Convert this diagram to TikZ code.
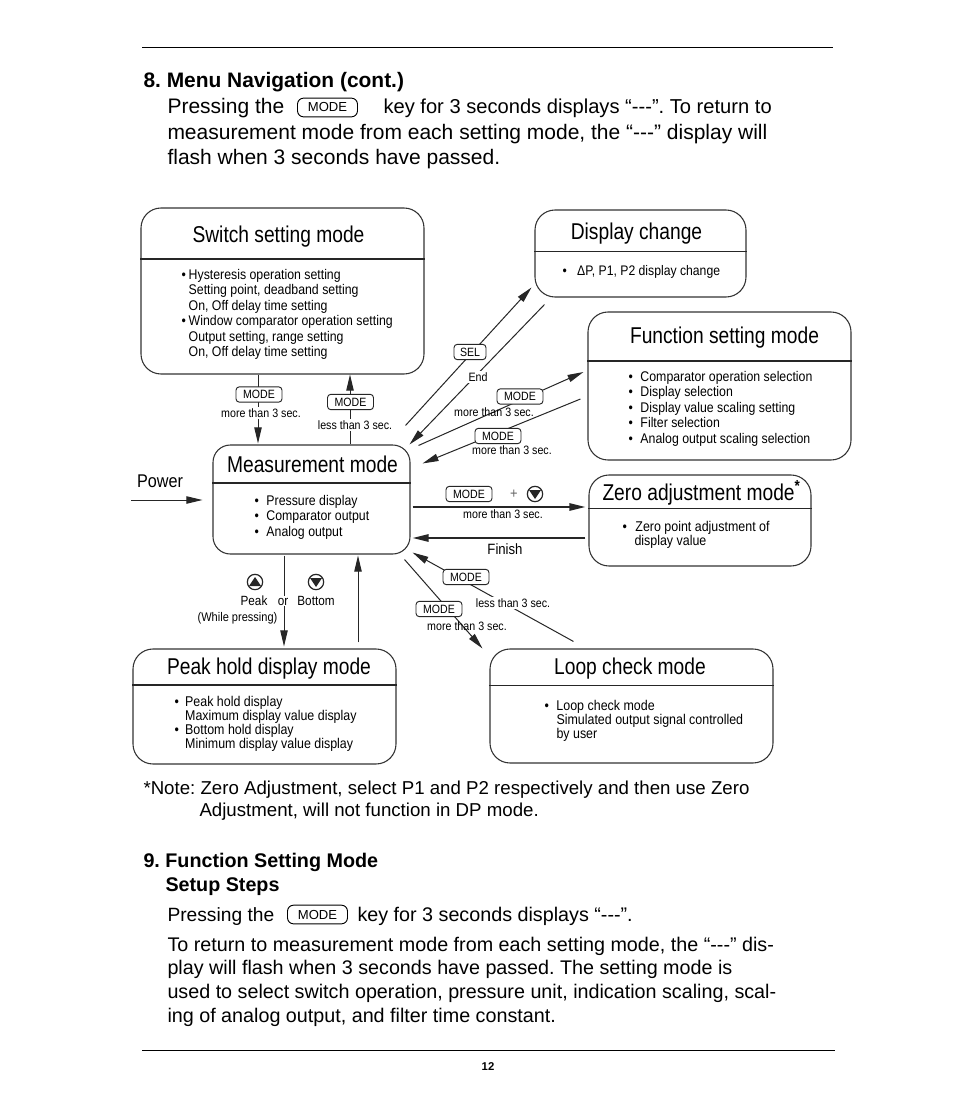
\documentclass[tikz,border=0pt]{standalone}
\usepackage{fontspec}
\setmainfont{Liberation Sans}
\newfontfamily\diagfont[FakeStretch=0.88]{Liberation Sans}
\newfontfamily\titlefont[FakeStretch=0.84]{Liberation Sans}
\usetikzlibrary{arrows.meta,positioning,calc}
\newcommand{\bul}[1]{\makebox[#1][l]{\textbullet}}
\newcommand{\sizefont}[2]{\fontsize{#1}{#2}\selectfont}
\newcommand{\dashes}{-{}-{}-}
\frenchspacing

\begin{document}
\begin{tikzpicture}[
    x=0.75pt, y=-0.75pt,
    line width=0.75pt,
    modebox/.style={rectangle, draw=black!80, rounded corners=15pt, line width=0.8pt, inner sep=0pt},
    divider/.style={draw=black!85, line width=0.9pt},
    titletext/.style={font=\titlefont\sizefont{17.15}{19}, anchor=base, inner sep=0pt},
    listtext/.style={font=\diagfont\sizefont{10.5}{11.6}, align=left, anchor=north west, inner sep=0pt},
    keybox/.style={rectangle, draw=black!85, fill=white, rounded corners=2.5pt, line width=0.7pt, minimum width=34.5pt, minimum height=11.5pt, inner sep=0pt, font=\diagfont\sizefont{9}{10}},
    smalltext/.style={font=\diagfont\sizefont{9.1}{10}, inner sep=0pt},
    masktext/.style={smalltext, fill=white, inner xsep=1pt, inner ysep=1pt},
    arr/.style={draw=black!85, -{Triangle[length=12pt,width=5.5pt]}},
    heavyarr/.style={arr, line width=1.3pt},
    roundkey/.style={circle, draw=black!85, line width=0.9pt, minimum size=11.5pt, inner sep=0pt},
    pagetext/.style={font=\sizefont{15.75}{19}, align=left, anchor=base west, inner sep=0pt},
    lowertext/.style={font=\sizefont{14.8}{18}, align=left, anchor=base west, inner sep=0pt},
    pagekey/.style={rectangle, draw=black, rounded corners=4.5pt, line width=0.7pt, minimum width=45pt, minimum height=14pt, inner sep=0pt, font=\sizefont{9.8}{11}}
]
    \useasboundingbox (0,0) rectangle (954,1098);
    \fill[white] (0,0) rectangle (954,1098);

    % page text
    \coordinate (ruletopa) at (142,47.5);
    \coordinate (ruletopb) at (833,47.5);
    \coordinate (rulebota) at (142,1050.5);
    \coordinate (rulebotb) at (835,1050.5);
    \draw[line width=0.6pt] (ruletopa) -- (ruletopb);
    \draw[line width=0.6pt] (rulebota) -- (rulebotb);

    \node[pagetext, font=\bfseries\sizefont{15.7}{19}] (headeight) at (143,88) {8. Menu Navigation (cont.)};
    \node[pagetext] (pressa) at (167,114) {Pressing the};
    \node[pagekey] (keya) at (327.5,107.5) {MODE};
    \node[pagetext, font=\sizefont{15.1}{19}] (pressb) at (383,114) {key for 3 seconds displays “\dashes”. To return to};
    \node[pagetext] (pressc) at (167,140) {measurement mode from each setting mode, the “\dashes” display will};
    \node[pagetext] (pressd) at (167,165) {flash when 3 seconds have passed.};

    \node[lowertext, font=\sizefont{14}{17}] (notea) at (143,794.5) {*Note: Zero Adjustment, select P1 and P2 respectively and then use Zero};
    \node[lowertext, font=\sizefont{14}{17}] (noteb) at (199,816) {Adjustment, will not function in DP mode.};
    \node[lowertext, font=\bfseries\sizefont{14.8}{18}] (headnine) at (143,867.5) {9. Function Setting Mode};
    \node[lowertext, font=\bfseries\sizefont{14.8}{18}] (headsetup) at (165,891.5) {Setup Steps};
    \node[lowertext, font=\sizefont{14.4}{18}] (stepsa) at (167,921) {Pressing the};
    \node[pagekey] (keyb) at (317.5,914.5) {MODE};
    \node[lowertext] (stepsb) at (357,921) {key for 3 seconds displays “\dashes”.};
    \node[lowertext] (stepsc) at (167,951) {To return to measurement mode from each setting mode, the “\dashes” dis-};
    \node[lowertext] (stepsd) at (167,974) {play will flash when 3 seconds have passed. The setting mode is};
    \node[lowertext] (stepse) at (167,998) {used to select switch operation, pressure unit, indication scaling, scal-};
    \node[lowertext] (stepsf) at (167,1022) {ing of analog output, and filter time constant.};
    \node[font=\bfseries\sizefont{8.5}{10}, inner sep=0pt] (pagenum) at (488,1066.5) {12};

    % mode boxes
    \node[modebox, minimum width=212.25pt, minimum height=124.5pt] (switch) at (282.5,291) {};
    \node[modebox, minimum width=158.25pt, minimum height=65.25pt] (display) at (640.5,253.5) {};
    \node[modebox, minimum width=197.25pt, minimum height=111pt] (function) at (719.5,386) {};
    \node[modebox, rounded corners=13pt, minimum width=147.75pt, minimum height=81.75pt] (meas) at (311.5,499.5) {};
    \node[modebox, minimum width=166.5pt, minimum height=68.25pt] (zero) at (700,520.5) {};
    \node[modebox, minimum width=197.25pt, minimum height=86.25pt] (peak) at (264.5,706.5) {};
    \node[modebox, minimum width=212.25pt, minimum height=85.5pt] (loop) at (631.5,706) {};

    \draw[divider] (switch.west |- 0,259) -- (switch.east |- 0,259);
    \draw[divider, line width=0.6pt] (display.west |- 0,251) -- (display.east |- 0,251);
    \draw[divider] (function.west |- 0,361) -- (function.east |- 0,361);
    \draw[divider] (meas.west |- 0,483) -- (meas.east |- 0,483);
    \draw[divider, line width=0.6pt] (zero.west |- 0,508) -- (zero.east |- 0,508);
    \draw[divider] (peak.west |- 0,685) -- (peak.east |- 0,685);
    \draw[divider, line width=0.6pt] (loop.west |- 0,685) -- (loop.east |- 0,685);

    % titles
    \node[titletext] (switchtitle) at (278.5,242.5) {Switch setting mode};
    \node[titletext] (displaytitle) at (636.5,239) {Display change};
    \node[titletext] (functiontitle) at (724.5,343.5) {Function setting mode};
    \node[titletext] (meastitle) at (312.5,472.5) {Measurement mode};
    \node[titletext, anchor=base west] (zerotitle) at (602,500) {Zero adjustment mode\textsuperscript{\bfseries *}};
    \node[titletext] (peaktitle) at (269,674.5) {Peak hold display mode};
    \node[titletext] (looptitle) at (630,674.5) {Loop check mode};

    % box contents
    \node[listtext] (switchlist) at (181,268.7) {\bul{5.4pt}Hysteresis operation setting\\\hspace*{5.4pt}Setting point, deadband setting\\\hspace*{5.4pt}On, Off delay time setting\\\bul{5.4pt}Window comparator operation setting\\\hspace*{5.4pt}Output setting, range setting\\\hspace*{5.4pt}On, Off delay time setting};
    \node[listtext, font=\diagfont\sizefont{10.4}{11.6}] (displaylist) at (562,264.5) {\bul{11pt}ΔP, P1, P2 display change};
    \node[listtext] (functionlist) at (628,370.7) {\bul{9pt}Comparator operation selection\\\bul{9pt}Display selection\\\bul{9pt}Display value scaling setting\\\bul{9pt}Filter selection\\\bul{9pt}Analog output scaling selection};
    \node[listtext] (measlist) at (254,494.7) {\bul{9pt}Pressure display\\\bul{9pt}Comparator output\\\bul{9pt}Analog output};
    \node[listtext, font=\diagfont\sizefont{10.6}{10.6}] (zerolist) at (622,521) {\bul{9.7pt}Zero point adjustment of\\\hspace*{9pt}display value};
    \node[listtext, font=\diagfont\sizefont{10.6}{10.5}] (peaklist) at (174,696) {\bul{8pt}Peak hold display\\\hspace*{8pt}Maximum display value display\\\bul{8pt}Bottom hold display\\\hspace*{8pt}Minimum display value display};
    \node[listtext, font=\diagfont\sizefont{10.6}{10.5}] (looplist) at (544,700) {\bul{9pt}Loop check mode\\\hspace*{9pt}Simulated output signal controlled\\\hspace*{9pt}by user};

    % connectors
    \coordinate (powerin) at (131,500);
    \draw[arr] (powerin) -- ([shift={(-10,0.5)}]meas.west);
    \draw[arr] ([shift={(-24.5,0)}]switch.south) -- ([shift={(-53.5,-1)}]meas.north);
    \draw[arr] ([shift={(38.5,0)}]meas.north) -- ([shift={(67.5,0)}]switch.south);
    \draw[arr] ([shift={(-5,-19)}]meas.north east) -- ([shift={(-3,-10)}]display.south west);
    \draw[arr] ([shift={(10,7)}]display.south west) -- ([shift={(-1,0)}]meas.north east);
    \draw[arr] ([shift={(8,1)}]meas.north east) -- ([shift={(-4,-14)}]function.west);
    \draw[arr] ([shift={(-7,13)}]function.west) -- ([shift={(12,19)}]meas.north east);
    \draw[heavyarr] ([shift={(2,7.5)}]meas.east) -- ([shift={(-3,-13.5)}]zero.west);
    \draw[heavyarr] ([shift={(-3,17.5)}]zero.west) -- ([shift={(2,38.5)}]meas.east);
    \draw[arr] ([shift={(84,-7)}]loop.north west) -- ([shift={(2,-2)}]meas.south east);
    \draw[arr] ([shift={(-6,5)}]meas.south east) -- ([shift={(-7,0)}]loop.north west);
    \draw[arr] ([shift={(-27.5,1)}]meas.south) -- ([shift={(19.5,-2)}]peak.north);
    \draw[arr] ([shift={(93.5,-6)}]peak.north) -- ([shift={(46.5,1)}]meas.south);

    % keys and labels on the connectors
    \node[keybox] (modedown) at (259,394.5) {MODE};
    \node[masktext] (moredown) at (261,413) {more than 3 sec.};
    \node[keybox] (modeup) at (350.5,402) {MODE};
    \node[masktext] (lessup) at (355,425) {less than 3 sec.};
    \node[keybox, minimum width=24pt] (selkey) at (470,352) {SEL};
    \node[masktext] (endlabel) at (478,377) {End};
    \node[keybox] (modefuna) at (520,396.5) {MODE};
    \node[smalltext] (morefuna) at (494,412) {more than 3 sec.};
    \node[keybox] (modefunb) at (498,436) {MODE};
    \node[smalltext] (morefunb) at (512,450) {more than 3 sec.};
    \node[keybox] (modezero) at (469,494) {MODE};
    \node[font=\diagfont\sizefont{11}{12}, text=black!60, inner sep=0pt] (pluslabel) at (514,494.5) {+};
    \node[roundkey] (downzero) at (535,494) {};
    \node[smalltext] (morezero) at (503,514) {more than 3 sec.};
    \node[smalltext, font=\diagfont\sizefont{11.2}{12}] (finishlabel) at (505,549) {Finish};
    \node[keybox] (modeloopa) at (466,577) {MODE};
    \node[masktext] (lessloop) at (513,603) {less than 3 sec.};
    \node[keybox] (modeloopb) at (439,609) {MODE};
    \node[smalltext] (moreloop) at (467,626) {more than 3 sec.};
    \node[roundkey] (peakup) at (255,582) {};
    \node[roundkey] (bottomdown) at (316,582) {};
    \node[smalltext, font=\diagfont\sizefont{10}{11}, anchor=base] (peaklabel) at (254,605) {Peak};
    \node[masktext, font=\diagfont\sizefont{10}{11}, anchor=base] (orlabel) at (283,605) {or};
    \node[smalltext, font=\diagfont\sizefont{10}{11}, anchor=base] (bottomlabel) at (316,605) {Bottom};
    \node[smalltext, font=\diagfont\sizefont{9.4}{10}] (whilelabel) at (237.5,618.5) {(While pressing)};
    \node[smalltext, font=\diagfont\sizefont{13.8}{15}] (powerlabel) at (160,481) {Power};

    % triangles in the round keys
    \fill[black!85] (peakup.center) ++(0,-5) -- ++(6,9) -- ++(-12,0) -- cycle;
    \fill[black!85] (bottomdown.center) ++(0,5) -- ++(6,-9) -- ++(-12,0) -- cycle;
    \fill[black!85] (downzero.center) ++(0,5) -- ++(6,-9) -- ++(-12,0) -- cycle;
\end{tikzpicture}
\end{document}
